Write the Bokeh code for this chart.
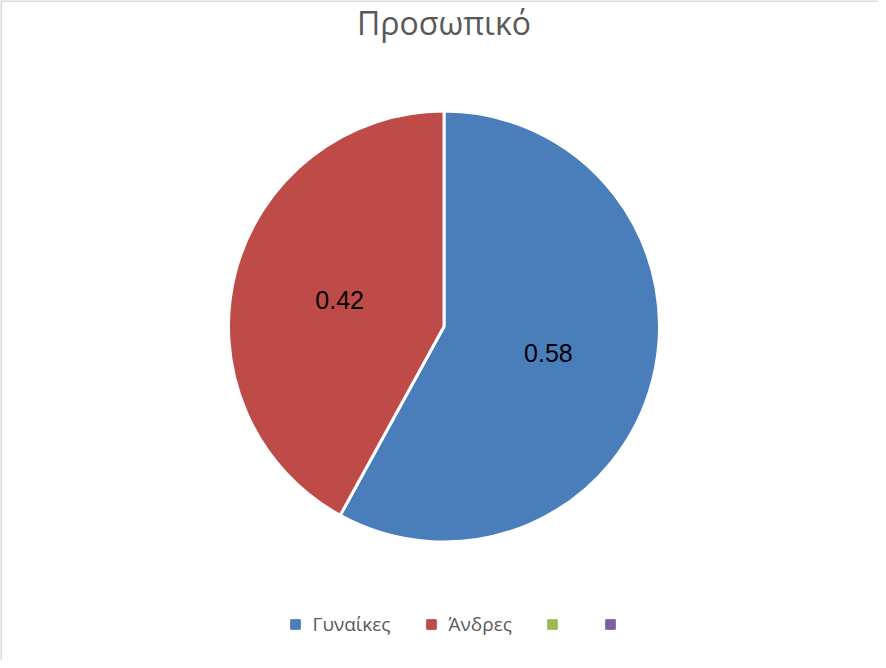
import math
from bokeh.plotting import figure
from bokeh.models import Range1d, Label, Legend, LegendItem, Span, ColumnDataSource
from bokeh.core.properties import value
from bokeh.embed import file_html
from bokeh.resources import INLINE

title_text = "Προσωπικό"
categories = ["Γυναίκες", "Άνδρες", "", ""]
values = [0.58, 0.42, 0.0, 0.0]
label_texts = ["0.58", "0.42"]
colors = ["#4A7EBB", "#BE4B48", "#98B954", "#7D60A0"]

W, H = 878, 660
p = figure(width=W, height=H, output_backend="svg", toolbar_location=None,
           x_range=Range1d(0, W), y_range=Range1d(0, H), min_border=0,
           outline_line_color=None, background_fill_color="white",
           border_fill_color="white")
p.axis.visible = False
p.grid.visible = False

cx, cy, r = 443.5, 334, 215.5

total = sum(values)
starts, ends, mids = [], [], []
acc = 0.0
for v in values:
    a0 = math.pi / 2 - 2 * math.pi * acc / total
    acc += v
    a1 = math.pi / 2 - 2 * math.pi * acc / total
    starts.append(a0)
    ends.append(a1)
    mids.append((a0 + a1) / 2)

src = ColumnDataSource(dict(start=starts[:2], end=ends[:2], color=colors[:2]))
p.wedge(x=cx, y=cy, radius=r, start_angle="start", end_angle="end",
        direction="clock", fill_color="color", line_color="white",
        line_width=3, source=src)

lx = [cx + 0.5 * r * math.cos(m) for m in mids[:2]]
ly = [cy + 0.5 * r * math.sin(m) for m in mids[:2]]
p.text(x=lx, y=ly, text=label_texts, text_align="center", text_baseline="middle",
       text_font=value("Liberation Sans"), text_font_size="25px", text_color="#000000")

p.add_layout(Label(x=cx, y=H - 21.5, text=title_text, text_align="center",
                   text_baseline="alphabetic", text_font="Open Sans",
                   text_font_size="32px", text_color="#595959"))

# border (top and left visible)
p.add_layout(Span(location=H, dimension="width", line_color="#d9d9d9", line_width=3))
p.add_layout(Span(location=0, dimension="height", line_color="#d9d9d9", line_width=3))

nan = float("nan")
items = []
for cat, col in zip(categories, colors):
    rr = p.quad(left=[nan], right=[nan], top=[nan], bottom=[nan],
                fill_color=col, line_color=col)
    items.append(LegendItem(label=value(cat), renderers=[rr]))

legend = Legend(items=items, orientation="horizontal", location=(288.5, 23),
                glyph_width=12, glyph_height=12, label_standoff=12, spacing=34,
                label_width=0, padding=0, margin=0, border_line_color=None,
                background_fill_alpha=0, label_text_font="Open Sans",
                label_text_font_size="19px", label_text_color="#595959",
                label_height=26)
p.add_layout(legend)

open("out.html", "w").write(file_html(p, INLINE))
